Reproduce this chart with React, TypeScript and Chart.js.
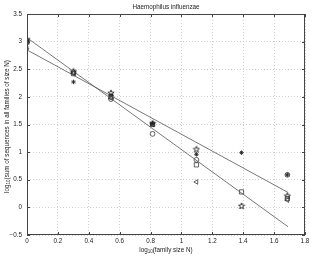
import React, { useEffect, useRef } from "react";
import { Chart, registerables } from "chart.js";

Chart.register(...registerables);

const xVals = [0, 0.301, 0.544, 0.813, 1.097, 1.389, 1.686];
const circleY: (number | null)[] = [3.0, 2.44, 1.96, 1.33, 0.86, null, 0.59];
const squareY: (number | null)[] = [2.99, 2.42, 2.0, 1.5, 0.77, 0.28, 0.16];
const triangleY: (number | null)[] = [3.01, 2.43, 1.98, 1.5, 0.46, null, 0.13];
const pentagramY: (number | null)[] = [3.04, 2.46, 2.07, 1.52, 1.05, 0.025, 0.21];
const asteriskY: (number | null)[] = [2.88, 2.27, 2.03, 1.52, 0.96, 0.99, 0.59];

const fitX = [0, 1.69];
const fitA = [3.07, -0.35];
const fitB = [2.85, 0.27];

const titleText = "Haemophilus influenzae";
const xLabelParts = [
  { t: "log", sub: false },
  { t: "10", sub: true },
  { t: "(family size N)", sub: false },
];
const yLabelParts = [
  { t: "log", sub: false },
  { t: "10", sub: true },
  { t: "(sum of sequences in all families of size N)", sub: false },
];

const FONT = "'Liberation Sans', Arial, sans-serif";
const INK = "#222";

function toPoints(ys: (number | null)[]) {
  return xVals
    .map((x, i) => ({ x, y: ys[i] }))
    .filter((p) => p.y !== null) as { x: number; y: number }[];
}

function makePentagram(): HTMLCanvasElement {
  const c = document.createElement("canvas");
  c.width = 8;
  c.height = 8;
  const g = c.getContext("2d")!;
  const cx = 4, cy = 4.2, R = 3.3, r = 1.35;
  g.beginPath();
  for (let i = 0; i < 10; i++) {
    const ang = -Math.PI / 2 + (i * Math.PI) / 5;
    const rad = i % 2 === 0 ? R : r;
    const px = cx + rad * Math.cos(ang);
    const py = cy + rad * Math.sin(ang);
    if (i === 0) g.moveTo(px, py);
    else g.lineTo(px, py);
  }
  g.closePath();
  g.strokeStyle = "#111";
  g.lineWidth = 0.8;
  g.stroke();
  return c;
}

function drawParts(
  ctx: CanvasRenderingContext2D,
  parts: { t: string; sub: boolean }[],
  size: number
) {
  const subSize = size * 0.72;
  let w = 0;
  for (const p of parts) {
    ctx.font = `${p.sub ? subSize : size}px ${FONT}`;
    w += ctx.measureText(p.t).width;
  }
  let x = -w / 2;
  ctx.textBaseline = "middle";
  ctx.textAlign = "left";
  for (const p of parts) {
    ctx.font = `${p.sub ? subSize : size}px ${FONT}`;
    ctx.fillText(p.t, x, p.sub ? 2 : 0);
    x += ctx.measureText(p.t).width;
  }
}

const decorPlugin = {
  id: "matlabDecor",
  afterDraw(chart: any) {
    const { ctx, chartArea } = chart;
    const { left, right, top, bottom } = chartArea;
    ctx.save();
    ctx.strokeStyle = "#444";
    ctx.lineWidth = 1;
    ctx.strokeRect(left + 0.5, top + 0.5, right - left - 1, bottom - top - 1);
    const xs = chart.scales.x;
    const ys = chart.scales.y;
    ctx.beginPath();
    xs.ticks.forEach((t: any) => {
      const px = Math.round(xs.getPixelForValue(t.value)) + 0.5;
      ctx.moveTo(px, bottom);
      ctx.lineTo(px, bottom - 3);
      ctx.moveTo(px, top);
      ctx.lineTo(px, top + 3);
    });
    ys.ticks.forEach((t: any) => {
      const py = Math.round(ys.getPixelForValue(t.value)) + 0.5;
      ctx.moveTo(left, py);
      ctx.lineTo(left + 3, py);
      ctx.moveTo(right, py);
      ctx.lineTo(right - 3, py);
    });
    ctx.stroke();
    ctx.fillStyle = INK;
    ctx.font = `6.3px ${FONT}`;
    ctx.textAlign = "center";
    ctx.textBaseline = "middle";
    ctx.fillText(titleText, (left + right) / 2, 7);
    ctx.save();
    ctx.translate((left + right) / 2, 250);
    drawParts(ctx, xLabelParts, 6.3);
    ctx.restore();
    ctx.save();
    ctx.translate(7, (top + bottom) / 2 + 2);
    ctx.rotate(-Math.PI / 2);
    drawParts(ctx, yLabelParts, 6.3);
    ctx.restore();
    ctx.restore();
  },
};

export default function App() {
  const ref = useRef<HTMLCanvasElement | null>(null);
  useEffect(() => {
    document.body.style.margin = "0";
    const pent = makePentagram();
    const common = {
      showLine: false,
      borderColor: INK,
      backgroundColor: "rgba(0,0,0,0)",
      borderWidth: 0.7,
    };
    const chart = new Chart(ref.current!, {
      type: "scatter",
      data: {
        datasets: [
          {
            label: "fitA",
            data: fitX.map((x, i) => ({ x, y: fitA[i] })),
            showLine: true,
            pointRadius: 0,
            borderColor: "#555",
            borderWidth: 0.8,
          },
          {
            label: "fitB",
            data: fitX.map((x, i) => ({ x, y: fitB[i] })),
            showLine: true,
            pointRadius: 0,
            borderColor: "#555",
            borderWidth: 0.8,
          },
          { label: "o", data: toPoints(circleY), pointStyle: "circle", pointRadius: 2.4, ...common },
          { label: "s", data: toPoints(squareY), pointStyle: "rect", pointRadius: 3.0, ...common },
          { label: "<", data: toPoints(triangleY), pointStyle: "triangle", rotation: -90, pointRadius: 2.6, ...common },
          { label: "p", data: toPoints(pentagramY), pointStyle: pent, pointRadius: 3.5, ...common },
          { label: "*", data: toPoints(asteriskY), pointStyle: "star", pointRadius: 2.2, ...common, borderWidth: 0.9 },
        ] as any,
      },
      options: {
        animation: false,
        responsive: false,
        maintainAspectRatio: false,
        devicePixelRatio: 1,
        layout: { padding: { top: 14, right: 9, left: 0, bottom: 0 } },
        plugins: {
          legend: { display: false },
          tooltip: { enabled: false },
          title: { display: false },
        },
        scales: {
          x: {
            type: "linear",
            min: 0,
            max: 1.8,
            afterFit: (s: any) => {
              s.height = 24;
            },
            ticks: {
              stepSize: 0.2,
              padding: 2,
              color: INK,
              font: { family: FONT, size: 6.3 },
              maxRotation: 0,
              autoSkip: false,
              callback: (v: any) => String(Math.round(Number(v) * 10) / 10),
            },
            grid: { color: "#c4c4c4", lineWidth: 0.8, drawTicks: false },
            border: { display: false, dash: [1, 2] },
          },
          y: {
            type: "linear",
            min: -0.5,
            max: 3.5,
            afterFit: (s: any) => {
              s.width = 27;
            },
            ticks: {
              stepSize: 0.5,
              padding: 5,
              color: INK,
              font: { family: FONT, size: 6.3 },
              autoSkip: false,
              callback: (v: any) => {
                const n = Math.round(Number(v) * 10) / 10;
                return n < 0 ? "\u2212" + String(-n) : String(n);
              },
            },
            grid: { color: "#c4c4c4", lineWidth: 0.8, drawTicks: false },
            border: { display: false, dash: [1, 2] },
          },
        },
      } as any,
      plugins: [decorPlugin],
    });
    return () => chart.destroy();
  }, []);
  return (
    <div style={{ position: "fixed", left: 0, top: 0, width: 314, height: 259, background: "#fff" }}>
      <canvas ref={ref} width={314} height={259} style={{ width: 314, height: 259, display: "block" }} />
    </div>
  );
}
